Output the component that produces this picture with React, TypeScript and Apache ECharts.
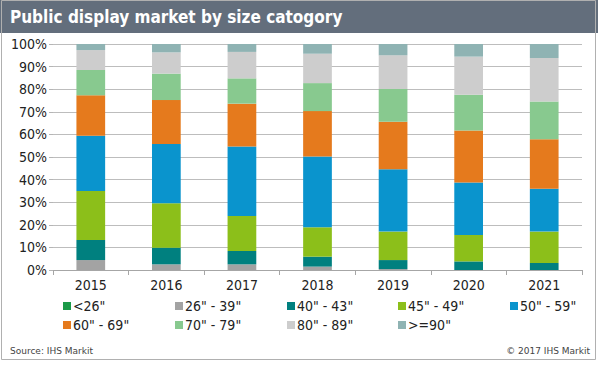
import React, { useEffect, useRef } from "react";
import * as echarts from "echarts";

const years = ["2015", "2016", "2017", "2018", "2019", "2020", "2021"];
const seriesNames = ['<26"', '26" - 39"', '40" - 43"', '45" - 49"', '50" - 59"', '60" - 69"', '70" - 79"', '80" - 89"', '>=90"'];
const lt26 = [0, 0, 0, 0, 0, 0, 0];
const s26to39 = [4.4, 2.5, 2.5, 1.5, 0.4, 0, 0];
const s40to43 = [8.9, 7.4, 5.9, 4.4, 4.0, 3.8, 3.1];
const s45to49 = [21.7, 19.6, 15.5, 13.0, 12.6, 11.7, 13.9];
const s50to59 = [24.4, 26.2, 30.8, 31.3, 27.6, 23.2, 18.9];
const s60to69 = [17.9, 19.5, 18.9, 20.1, 21.0, 23.0, 21.9];
const s70to79 = [11.2, 11.7, 11.2, 12.4, 14.5, 15.8, 16.8];
const s80to89 = [8.8, 9.4, 11.7, 13.0, 14.9, 16.9, 19.2];
const s90plus = [2.7, 3.7, 3.5, 4.3, 5.0, 5.6, 6.2];
const seriesData = [lt26, s26to39, s40to43, s45to49, s50to59, s60to69, s70to79, s80to89, s90plus];
const colors = ["#1b9a48", "#a3a3a3", "#00807f", "#8cbf1a", "#0a94cd", "#e57a1d", "#88c98f", "#cdcdcd", "#8fb3b3"];

const FONT = '"DejaVu Sans Condensed", "DejaVu Sans", sans-serif';

export default function App() {
  const ref = useRef<HTMLDivElement>(null);
  useEffect(() => {
    if (!ref.current) return;
    const chart = echarts.init(ref.current, null, { renderer: "svg" });
    const legendX = [63, 175, 287, 398, 510];
    const legendY = [299, 318];
    const legends = seriesNames.map((name, i) => ({
      data: [name],
      left: legendX[i % 5],
      top: legendY[Math.floor(i / 5)],
      padding: 0,
      itemWidth: 8,
      itemHeight: 8,
      icon: "rect",
      textStyle: { fontSize: 14, fontFamily: FONT, color: "#222", padding: [0, 0, 0, -3] },
    }));
    chart.setOption({
      animation: false,
      color: colors,
      textStyle: { fontFamily: FONT },
      grid: { left: 53, right: 18, top: 44, bottom: 96 },
      legend: legends,
      xAxis: {
        type: "category",
        data: years,
        axisLine: { lineStyle: { color: "#a6a6a6" } },
        axisTick: { show: true, length: 5, lineStyle: { color: "#a6a6a6" } },
        axisLabel: { fontSize: 14, color: "#222", fontFamily: FONT, margin: 8 },
      },
      yAxis: {
        type: "value",
        min: 0,
        max: 100,
        interval: 10,
        axisLine: { show: false },
        axisTick: { show: true, length: 4, lineStyle: { color: "#b5b5b5" } },
        axisLabel: { formatter: "{value}%", fontSize: 14, color: "#222", fontFamily: FONT, margin: 6 },
        splitLine: { lineStyle: { color: "#bdbdbd" } },
      },
      series: seriesNames.map((name, i) => ({
        name,
        type: "bar",
        stack: "total",
        barWidth: "38%",
        data: seriesData[i],
        itemStyle: { color: colors[i] },
      })),
      graphic: [
        { type: "rect", shape: { x: 0, y: 0, width: 598, height: 33 }, style: { fill: "#636e7c" }, z: 0 },
        {
          type: "text",
          x: 10,
          y: 17,
          style: { text: "Public display market by size catogory", fill: "#ffffff", font: 'bold 17px "DejaVu Sans Condensed", "DejaVu Sans", sans-serif', textVerticalAlign: "middle" },
        },
        { type: "rect", shape: { x: 1.5, y: 0.5, width: 594, height: 359 }, style: { fill: "none", stroke: "#b0b0b0", lineWidth: 1 }, z: 0 },
        { type: "text", x: 10, y: 351, style: { text: "Source: IHS Markit", fill: "#444", font: '9px "DejaVu Sans", sans-serif', textVerticalAlign: "middle" } },
        { type: "text", x: 590, y: 351, style: { text: "© 2017 IHS Markit", fill: "#444", font: '9px "DejaVu Sans", sans-serif', textAlign: "right", textVerticalAlign: "middle" } },
      ],
    });
    return () => chart.dispose();
  }, []);
  return <div ref={ref} style={{ width: 600, height: 366, position: "absolute", left: 0, top: 0, background: "#fff" }} />;
}
